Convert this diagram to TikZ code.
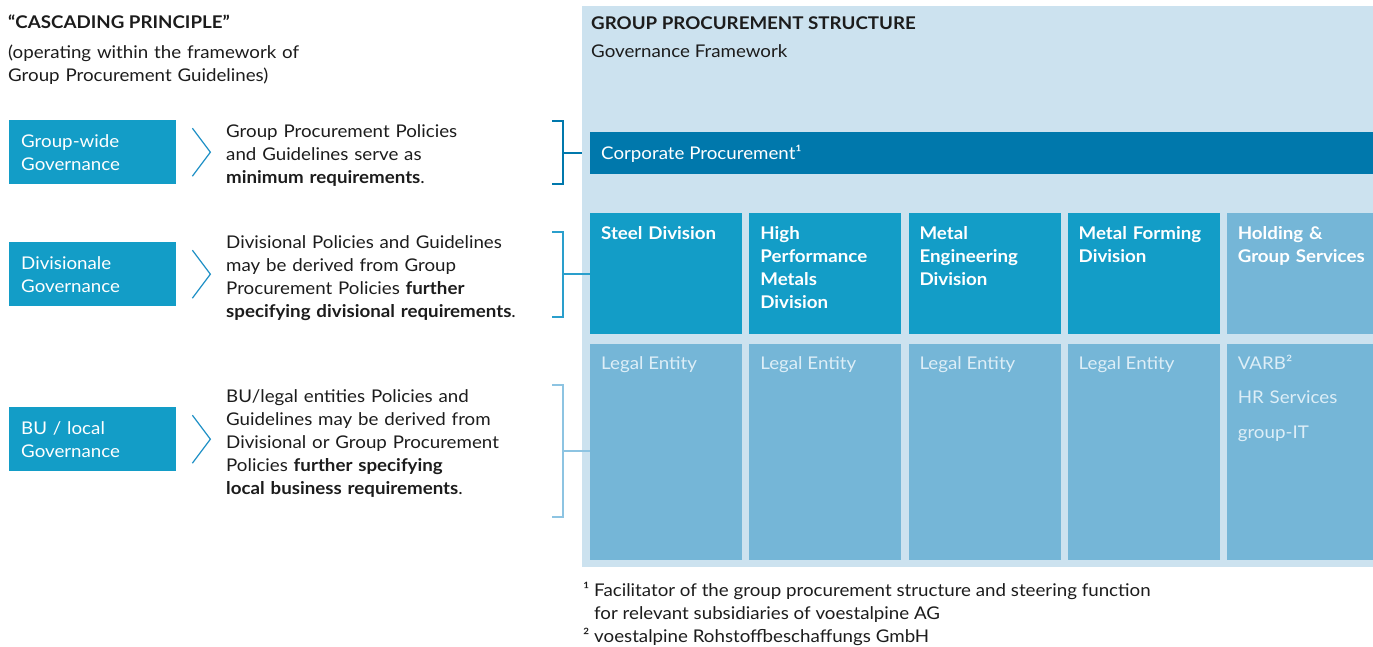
\documentclass[tikz,border=0pt]{standalone}
\usepackage{fontspec}
\setmainfont{Lato}[FakeStretch=1.07]
\usetikzlibrary{positioning}

\definecolor{panelbg}{HTML}{CCE2EF}
\definecolor{corpblue}{HTML}{0078AC}
\definecolor{divblue}{HTML}{139DC7}
\definecolor{entblue}{HTML}{75B6D7}
\definecolor{enttext}{HTML}{DDEEF7}
\definecolor{ink}{HTML}{1C1C1C}
\definecolor{chevblue}{HTML}{1B8EC5}
\definecolor{brackmid}{HTML}{2A9FCC}
\definecolor{bracklight}{HTML}{8DC4E2}

\newcommand{\bodyfont}{\fontsize{17.5}{23}\selectfont}

\begin{document}
\begin{tikzpicture}[
  x=1pt, y=-1pt,
  govbox/.style={fill=divblue, text=white, text width=143pt, inner xsep=12pt, inner ysep=0pt, minimum height=64pt, align=left, anchor=north west, font=\bodyfont},
  policytext/.style={anchor=base west, inner sep=0pt, text width=330pt, align=left, text=ink, font=\bodyfont},
  heading/.style={anchor=base west, inner sep=0pt, text=ink, font=\bodyfont},
  divbox/.style={fill=divblue, minimum width=152pt, minimum height=121pt, inner sep=0pt},
  entbox/.style={fill=entblue, minimum width=152pt, minimum height=216pt, inner sep=0pt},
  divlabel/.style={anchor=base west, inner sep=0pt, text width=140pt, align=left, text=white, font=\bodyfont\bfseries},
  entlabel/.style={anchor=base west, inner sep=0pt, text=enttext, font=\bodyfont},
  chevron/.style={draw=chevblue, line width=1.2pt},
  brack/.style={line width=1.5pt}
]
\useasboundingbox (0,0) rectangle (1373,646);

% left column: cascading principle
\node[heading, font=\bodyfont\bfseries] (title) at (8,28) {“CASCADING PRINCIPLE”};
\node[policytext] (frame) at (8,58) {(operating within the framework of\\Group Procurement Guidelines)};

\node[govbox] (g1) at (9,120) {Group-wide\\Governance};
\node[govbox] (g2) at (9,242) {Divisionale\\Governance};
\node[govbox] (g3) at (9,407) {BU / local\\Governance};

\draw[chevron] ([shift={(16,-24)}]g1.east) -- ([shift={(34,0)}]g1.east) -- ([shift={(16,24)}]g1.east);
\draw[chevron] ([shift={(16,-24)}]g2.east) -- ([shift={(34,0)}]g2.east) -- ([shift={(16,24)}]g2.east);
\draw[chevron] ([shift={(16,-24)}]g3.east) -- ([shift={(34,0)}]g3.east) -- ([shift={(16,24)}]g3.east);

\node[policytext] (p1) at (226,137) {Group Procurement Policies\\and Guidelines serve as\\\textbf{minimum requirements}.};
\node[policytext] (p2) at (226,248) {Divisional Policies and Guidelines\\may be derived from Group\\Procurement Policies \textbf{further}\\\textbf{specifying divisional requirements}.};
\node[policytext] (p3) at (226,402) {BU/legal entities Policies and\\Guidelines may be derived from\\Divisional or Group Procurement\\Policies \textbf{further specifying}\\\textbf{local business requirements}.};

% right side: structure panel
\node[fill=panelbg, minimum width=791pt, minimum height=561pt, inner sep=0pt, anchor=north west] (panel) at (582,6) {};
\node[heading, font=\bodyfont\bfseries] (structure) at (591,29) {GROUP PROCUREMENT STRUCTURE};
\node[heading] (framework) at (591,57) {Governance Framework};

\node[fill=corpblue, minimum width=783pt, minimum height=42pt, inner sep=0pt, anchor=north west] (corp) at (590,132) {};
\node[entlabel, text=white] (corp label) at (601,159) {Corporate Procurement¹};

\node[divbox, anchor=north west] (d1) at (590,213) {};
\node[divbox, right=6.75pt of d1] (d2) {};
\node[divbox, right=6.75pt of d2] (d3) {};
\node[divbox, right=6.75pt of d3] (d4) {};
\node[divbox, fill=entblue, minimum width=148pt, right=6.75pt of d4] (d5) {};

\node[divlabel] (d1 label) at ([shift={(11,26)}]d1.north west) {Steel Division};
\node[divlabel] (d2 label) at ([shift={(11,26)}]d2.north west) {High\\Performance\\Metals\\Division};
\node[divlabel] (d3 label) at ([shift={(11,26)}]d3.north west) {Metal\\Engineering\\Division};
\node[divlabel] (d4 label) at ([shift={(11,26)}]d4.north west) {Metal Forming\\Division};
\node[divlabel] (d5 label) at ([shift={(11,26)}]d5.north west) {Holding \&\\Group Services};

\node[entbox, below=9pt of d1] (e1) {};
\node[entbox, below=9pt of d2] (e2) {};
\node[entbox, below=9pt of d3] (e3) {};
\node[entbox, below=9pt of d4] (e4) {};
\node[entbox, minimum width=148pt, below=9pt of d5] (e5) {};

\node[entlabel] (e1 label) at ([shift={(11,26)}]e1.north west) {Legal Entity};
\node[entlabel] (e2 label) at ([shift={(11,26)}]e2.north west) {Legal Entity};
\node[entlabel] (e3 label) at ([shift={(11,26)}]e3.north west) {Legal Entity};
\node[entlabel] (e4 label) at ([shift={(11,26)}]e4.north west) {Legal Entity};
\node[entlabel, text width=130pt, align=left, font=\fontsize{17.5}{34.5}\selectfont] (e5 label) at ([shift={(11,26)}]e5.north west) {VARB²\\HR Services\\group-IT};

% brackets tying each level to the structure
\coordinate (k1) at (563,153);
\coordinate (k2) at (563,274);
\coordinate (k3) at (563,451);
\draw[brack, corpblue] (552,121) -| (k1) |- (552,184);
\draw[brack, corpblue] (k1) -- (k1 -| panel.west);
\draw[brack, brackmid] (552,232) -| (k2) |- (552,317);
\draw[brack, brackmid] (k2) -- (k2 -| d1.west);
\draw[brack, bracklight] (552,385) -| (k3) |- (552,517);
\draw[brack, bracklight] (k3) -- (k3 -| e1.west);

% footnotes
\node[heading] (fn1) at (583,596) {¹ Facilitator of the group procurement structure and steering function};
\node[heading] (fn1 cont) at (594,619) {for relevant subsidiaries of voestalpine AG};
\node[heading] (fn2) at (583,642) {² voestalpine Rohstoffbeschaffungs GmbH};
\end{tikzpicture}
\end{document}
